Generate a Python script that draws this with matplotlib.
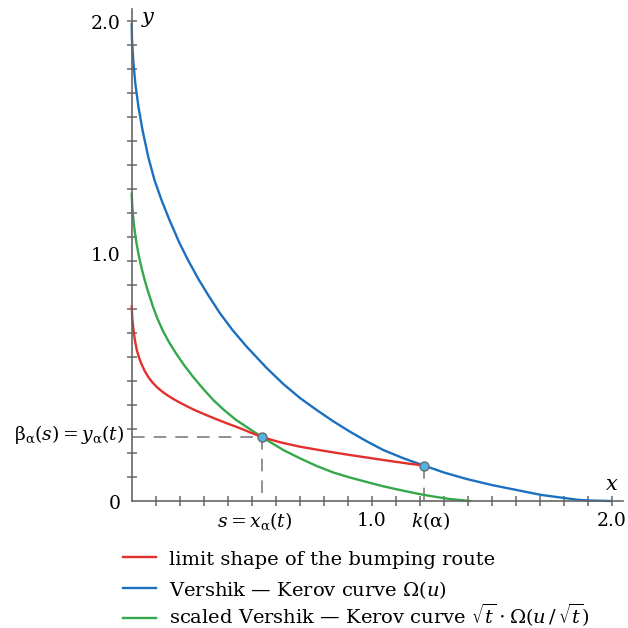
import matplotlib
matplotlib.use("Agg")
import matplotlib.pyplot as plt
from matplotlib.lines import Line2D
import numpy as np

plt.rcParams['font.family'] = ['DejaVu Serif']
plt.rcParams['mathtext.fontset'] = 'dejavuserif'

# curves
blue_x = [0.0, 0.00125, 0.00625, 0.0154, 0.0283, 0.0450, 0.0691, 0.0949, 0.1241, 0.1574,
          0.1990, 0.2344, 0.2802, 0.3210, 0.3677, 0.4198, 0.4789, 0.5621, 0.6313, 0.7008,
          0.7703, 0.8395, 0.9090, 0.9786, 1.0477, 1.1310, 1.216, 1.3046, 1.3950, 1.4991,
          1.6032, 1.7073, 1.8114, 1.8584, 1.9084, 2.0]
blue_y = [1.99, 1.9208, 1.8375, 1.7375, 1.6417, 1.5458, 1.4333, 1.3375, 1.2542, 1.1708,
          1.075, 1.0042, 0.9208, 0.8542, 0.7821, 0.7125, 0.6429, 0.5542, 0.4875, 0.4292,
          0.3792, 0.3321, 0.2888, 0.2488, 0.2125, 0.1783, 0.148, 0.1175, 0.0917, 0.0667,
          0.0458, 0.025, 0.0113, 0.005, 0.0021, 0.0]

red_x = [0.0, 0.0025, 0.0067, 0.0129, 0.0208, 0.0304, 0.0416, 0.0554, 0.070, 0.0866,
         0.1053, 0.1262, 0.1491, 0.1732, 0.2011, 0.2303, 0.2595, 0.3053, 0.3539, 0.4010,
         0.4510, 0.4968, 0.543, 0.6175, 0.7008, 0.8049, 0.9090, 0.9923, 1.0756, 1.1589,
         1.216]
red_y = [0.8125, 0.7625, 0.7188, 0.6729, 0.6313, 0.5979, 0.5688, 0.5396, 0.5154, 0.4938,
         0.4742, 0.4567, 0.4404, 0.4254, 0.4096, 0.3946, 0.3804, 0.3604, 0.3404, 0.3221,
         0.3033, 0.2846, 0.266, 0.245, 0.2263, 0.2083, 0.1917, 0.1792, 0.1667, 0.155,
         0.148]

green_x = [0.0, 0.0017, 0.0046, 0.0087, 0.0137, 0.020, 0.0275, 0.0354, 0.0433, 0.0541,
           0.0662, 0.0887, 0.1062, 0.1283, 0.1541, 0.1845, 0.2178, 0.2553, 0.2948, 0.3398,
           0.3843, 0.4351, 0.4947, 0.543, 0.6313, 0.7008, 0.7703, 0.8395, 0.909, 0.9786,
           1.0477, 1.1172, 1.1868, 1.2559, 1.3254, 1.4087]
green_y = [1.2821, 1.2417, 1.2, 1.1583, 1.1167, 1.075, 1.0333, 0.9958, 0.9625, 0.9208,
           0.8792, 0.8096, 0.7625, 0.7125, 0.6642, 0.6154, 0.5667, 0.5179, 0.4708, 0.4208,
           0.3792, 0.3375, 0.2979, 0.266, 0.2125, 0.1779, 0.1458, 0.1188, 0.0979, 0.0792,
           0.0613, 0.0458, 0.0313, 0.0188, 0.0083, 0.0]

s_x, s_y = 0.543, 0.266     # intersection of red and green
k_x, k_y = 1.216, 0.148     # end of red on blue

red = '#e3302c'
blue = '#1b70c0'
green = '#34a84a'
gray = '#666666'

fig = plt.figure(figsize=(6.28, 6.28), dpi=100)
ax = fig.add_axes([0.2097, 0.2022, 0.7824, 0.7834])
ax.set_xlim(0, 2.046)
ax.set_ylim(0, 2.05)

for sp in ['top', 'right']:
    ax.spines[sp].set_visible(False)
for sp in ['left', 'bottom']:
    ax.spines[sp].set_color(gray)
    ax.spines[sp].set_linewidth(1.2)

ticks = np.round(np.arange(0.1, 2.001, 0.1), 2)
ax.set_xticks(ticks)
ax.set_yticks(ticks)
ax.set_xticklabels([])
ax.set_yticklabels([])
ax.tick_params(direction='inout', length=7, width=1.1, color=gray)

dash = (0, (7, 5))
ax.plot([0, s_x], [s_y, s_y], color='#888888', lw=1.3, ls=dash)
ax.plot([s_x, s_x], [s_y, 0], color='#888888', lw=1.3, ls=dash)
ax.plot([k_x, k_x], [k_y, 0], color='#888888', lw=1.3, ls=dash)

kw = dict(lw=1.7, clip_on=False, solid_joinstyle='round', solid_capstyle='round')
ax.plot(green_x, green_y, color=green, **kw)
ax.plot(blue_x, blue_y, color=blue, **kw)
ax.plot(red_x, red_y, color=red, **kw)

ax.plot([s_x, k_x], [s_y, k_y], ls='none', marker='o', ms=6.5,
        mfc='#4fb3e6', mec='#6a6a6a', mew=1.0, clip_on=False, zorder=5)

fs = 13.5
ty = -0.083
ax.text(1.0, ty, '1.0', ha='center', va='center', fontsize=fs)
ax.text(2.0, ty, '2.0', ha='center', va='center', fontsize=fs)
ax.text(s_x - 0.03, ty, r'$s = x_{\mathrm{\alpha}}(t)$', ha='center', va='center', fontsize=fs)
ax.text(k_x + 0.03, ty, r'$k(\mathrm{\alpha})$', ha='center', va='center', fontsize=fs)
ax.text(-0.045, 1.0 + 0.02, '1.0', ha='right', va='center', fontsize=fs)
ax.text(-0.045, 2.0 - 0.012, '2.0', ha='right', va='center', fontsize=fs)
ax.text(-0.045, -0.012, '0', ha='right', va='center', fontsize=fs)
ax.text(-0.03, s_y + 0.01, r'$\mathrm{\beta}_{\mathrm{\alpha}}(s) = y_{\mathrm{\alpha}}(t)$',
        ha='right', va='center', fontsize=fs)
ax.text(0.07, 2.005, r'$y$', ha='center', va='center', fontsize=15)
ax.text(2.0, 0.07, r'$x$', ha='center', va='center', fontsize=15)

# legend drawn by hand
labels = ['limit shape of the bumping route',
          r'Vershik — Kerov curve $\Omega(u)$',
          r'scaled Vershik — Kerov curve $\sqrt{t}\cdot\Omega(u\,/\,\sqrt{t})$']
colors = [red, blue, green]
rows = [556.7, 587.7, 618.3]
offs = [8, 8, 6]
for lab, c, r, o in zip(labels, colors, rows, offs):
    yy = 1 - r / 628
    fig.add_artist(Line2D([123 / 628, 155.7 / 628], [yy, yy], color=c, lw=1.7,
                          transform=fig.transFigure))
    fig.text(169.3 / 628, 1 - (r + o) / 628, lab, ha='left', va='baseline', fontsize=14)

fig.savefig('out.png', dpi=100)
